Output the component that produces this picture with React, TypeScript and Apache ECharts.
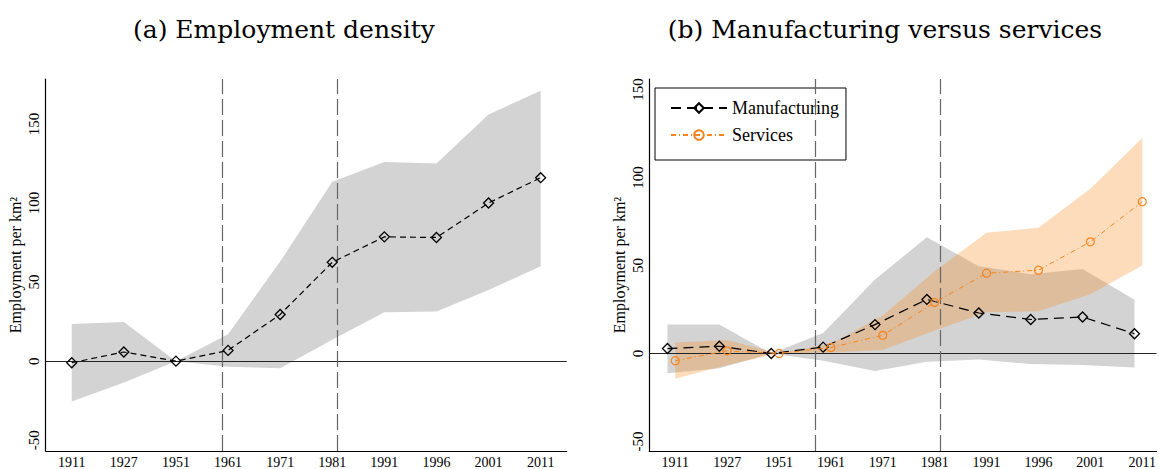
import React, { useEffect, useRef } from 'react';
import * as echarts from 'echarts';

const years = ['1911', '1927', '1951', '1961', '1971', '1981', '1991', '1996', '2001', '2011'];

// Panel (a): employment density
const totalEmployment = [-1, 5.8, 0, 6.8, 29.5, 62.5, 78.6, 78.2, 100, 116];
const totalUpper = [23.5, 24.8, 0, 17, 63, 113.5, 126, 125, 156, 171];
const totalLower = [-25.5, -13.5, 0, -3.5, -4.5, 13.5, 31, 31.4, 45, 60];

// Panel (b): manufacturing vs services
const manufacturing = [2.8, 4.1, 0, 3.6, 16.4, 30.7, 23, 19.3, 20.7, 11.2];
const manufUpper = [16.4, 16.4, 0, 11.6, 42, 66, 49.5, 45, 48, 30.5];
const manufLower = [-11.2, -8.4, 0, -4.1, -9.9, -4.7, -3.4, -6, -6.5, -8];
const services = [-4.1, 1.5, 0, 3.4, 10.3, 29, 45.6, 47.3, 63.4, 86.2];
const servUpper = [6.2, 7.7, 0, 5.5, 21.5, 46.7, 68.6, 71.4, 93.5, 122.4];
const servLower = [-14.4, -6.5, 0, 0.5, 1.9, 13.1, 23.4, 24, 33.6, 50];

const yTicks = [-50, 0, 50, 100, 150];
const xTicks = [0, 1, 2, 3, 4, 5, 6, 7, 8, 9];
const periodBreaksA = [2.89, 5.09];
const periodBreaksB = [2.7, 5.1];
const manufShift = -0.15;
const servShift = 0;

const NUM = '"Liberation Serif", serif';
const ORANGE = '#f5841f';

function band(xi: number, upper: number[], lower: number[], shift: number, color: string, z: number) {
  return {
    type: 'custom',
    xAxisIndex: xi,
    yAxisIndex: xi,
    silent: true,
    z,
    data: [[0, 0]],
    renderItem: (_p: any, api: any) => {
      const pts: number[][] = [];
      upper.forEach((v, i) => pts.push(api.coord([i + shift, v])));
      for (let i = lower.length - 1; i >= 0; i--) pts.push(api.coord([i + shift, lower[i]]));
      return { type: 'polygon', shape: { points: pts }, style: { fill: color } };
    },
  };
}

function refLines(breaks: number[]) {
  return {
    silent: true,
    symbol: ['none', 'none'],
    label: { show: false },
    data: [
      { yAxis: 0, lineStyle: { color: '#222', width: 1.2, type: 'solid' } },
      ...breaks.map((b) => ({ xAxis: b, lineStyle: { color: '#666', width: 1.2, type: [16, 5] } })),
    ],
  };
}

function xAxis(gi: number, max: number) {
  return {
    type: 'value',
    gridIndex: gi,
    min: -0.5,
    max,
    splitLine: { show: false },
    axisTick: { show: false },
    axisLine: { show: true, onZero: false, lineStyle: { color: '#000', width: 1.2 } },
    axisLabel: {
      customValues: xTicks,
      formatter: (v: number) => years[Math.round(v)],
      margin: 4,
      fontFamily: NUM,
      fontSize: 14,
      color: '#000',
    },
  };
}

function yAxis(gi: number, min: number, max: number) {
  return {
    type: 'value',
    gridIndex: gi,
    min,
    max,
    splitLine: { show: false },
    axisTick: { show: false },
    axisLine: { show: true, onZero: false, lineStyle: { color: '#000', width: 1.2 } },
    axisLabel: {
      customValues: yTicks,
      rotate: 90,
      margin: 4,
      fontFamily: NUM,
      fontSize: 15,
      color: '#000',
    },
    name: 'Employment per km²',
    nameLocation: 'middle',
    nameRotate: 90,
    nameGap: 22,
    nameTextStyle: { fontFamily: NUM, fontSize: 16, color: '#000' },
  };
}

export default function App() {
  const ref = useRef<HTMLDivElement>(null);
  useEffect(() => {
    if (!ref.current) return;
    const chart = echarts.init(ref.current, null, { renderer: 'svg' });
    chart.setOption({
      animation: false,
      backgroundColor: '#fff',
      grid: [
        { left: 45.7, top: 79, width: 521, height: 374 },
        { left: 649.3, top: 79, right: 0, height: 374 },
      ],
      xAxis: [xAxis(0, 9.5), xAxis(1, 9.274)],
      yAxis: [yAxis(0, -56.8, 178.4), yAxis(1, -55.4, 155.9)],
      legend: {
        data: ['Manufacturing', 'Services'],
        orient: 'vertical',
        left: 655,
        top: 88,
        padding: [11, 7, 16, 15],
        itemWidth: 56,
        itemHeight: 12,
        itemGap: 9,
        borderColor: '#000',
        borderWidth: 1,
        textStyle: { fontFamily: NUM, fontSize: 18, color: '#000' },
      },
      graphic: [
        {
          type: 'text',
          x: 284,
          y: 29,
          style: { text: '(a) Employment density', font: '25px "DejaVu Serif", serif', fill: '#000', textAlign: 'center', textVerticalAlign: 'middle' },
        },
        {
          type: 'text',
          x: 885,
          y: 29,
          style: { text: '(b) Manufacturing versus services', font: '25px "DejaVu Serif", serif', fill: '#000', textAlign: 'center', textVerticalAlign: 'middle' },
        },
      ],
      series: [
        band(0, totalUpper, totalLower, 0, '#d3d3d3', 1),
        {
          type: 'line',
          name: 'Total',
          xAxisIndex: 0,
          yAxisIndex: 0,
          z: 5,
          data: totalEmployment.map((v, i) => [i, v]),
          symbol: 'diamond',
          symbolSize: 10,
          lineStyle: { color: '#000', width: 1.2, type: [6, 4] },
          itemStyle: { color: 'rgba(0,0,0,0)', borderColor: '#000', borderWidth: 1.3 },
          markLine: refLines(periodBreaksA),
        },
        band(1, manufUpper, manufLower, manufShift, '#d3d3d3', 1),
        band(1, servUpper, servLower, servShift, 'rgba(248,140,30,0.3)', 2),
        {
          type: 'line',
          name: 'Manufacturing',
          xAxisIndex: 1,
          yAxisIndex: 1,
          z: 5,
          data: manufacturing.map((v, i) => [i + manufShift, v]),
          symbol: 'diamond',
          symbolSize: 10,
          lineStyle: { color: '#000', width: 1.2, type: [10, 6] },
          itemStyle: { color: 'rgba(0,0,0,0)', borderColor: '#000', borderWidth: 1.3 },
          markLine: refLines(periodBreaksB),
        },
        {
          type: 'line',
          name: 'Services',
          xAxisIndex: 1,
          yAxisIndex: 1,
          z: 6,
          data: services.map((v, i) => [i + servShift, v]),
          symbol: 'circle',
          symbolSize: 8,
          lineStyle: { color: ORANGE, width: 1, type: [5, 3, 1, 3] },
          itemStyle: { color: 'rgba(0,0,0,0)', borderColor: ORANGE, borderWidth: 1.2 },
        },
      ],
    });
    return () => chart.dispose();
  }, []);
  return <div ref={ref} style={{ position: 'absolute', left: 0, top: 0, width: 1159, height: 469 }} />;
}
